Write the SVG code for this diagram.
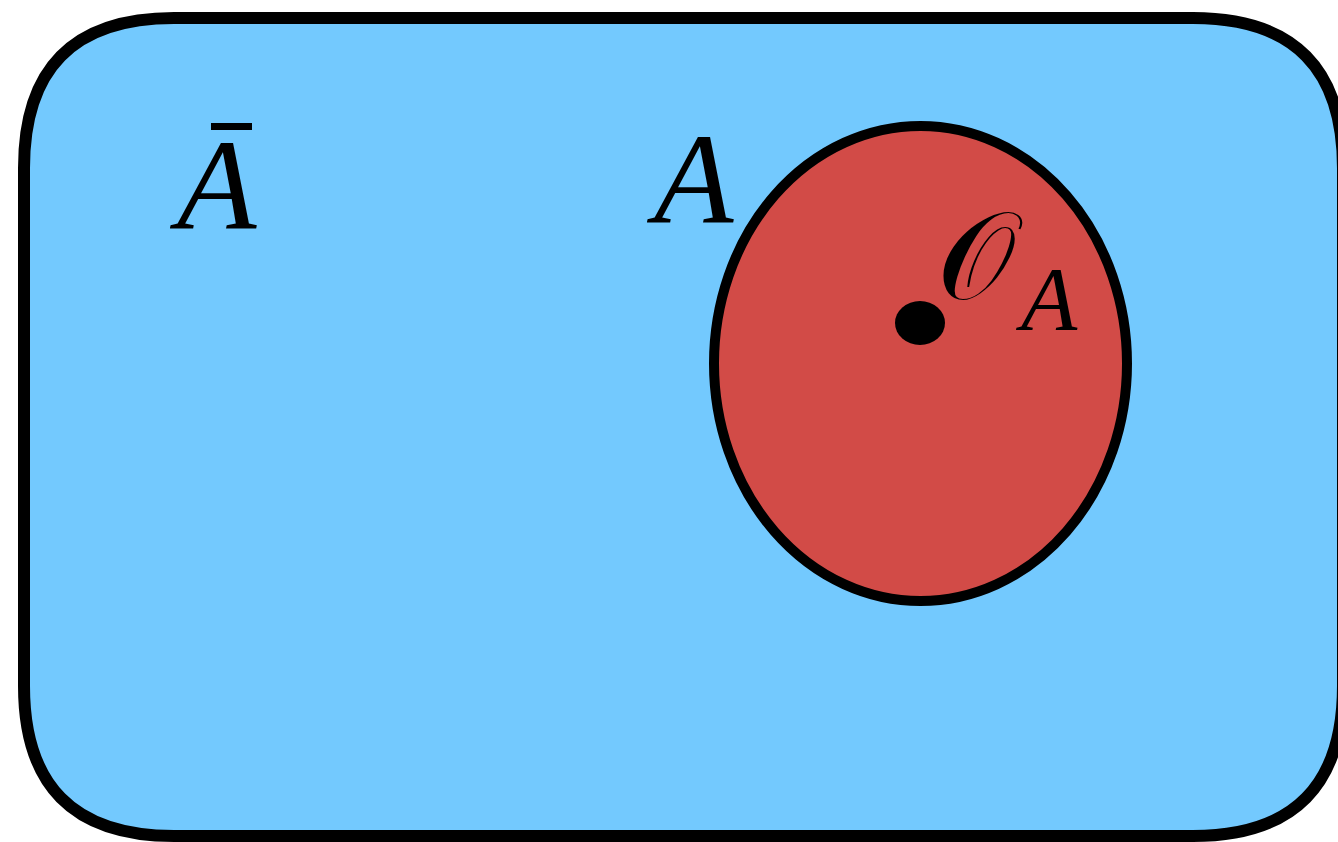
<svg xmlns="http://www.w3.org/2000/svg" width="1338" height="842" viewBox="0 0 1338 842">
<style>
.lbl{font-family:"Liberation Serif","Times New Roman",serif;font-style:italic;fill:#000}
</style>
<rect width="1338" height="842" fill="#ffffff"/>
<g id="universe">
<path d="M24,168 C24,70 72,18 174,18 H1193 C1295,18 1343,70 1343,168 V686 C1343,784 1295,836 1193,836 H174 C72,836 24,784 24,686 Z" fill="#73c9fe" stroke="#000" stroke-width="12"/>
</g>
<g id="setA">
<ellipse cx="920.5" cy="363.5" rx="206.5" ry="237.5" fill="#d24b47" stroke="#000" stroke-width="10"/>
</g>
<g id="point">
<ellipse cx="920" cy="323" rx="25" ry="22" fill="#000"/>
</g>
<g id="labels">
<text class="lbl" x="177" y="229" font-size="130">A</text>
<rect x="211" y="123" width="41" height="7" fill="#000"/>
<text class="lbl" x="654" y="223" font-size="130">A</text>
<text x="937" y="299" font-size="124" font-family="'DejaVu Serif','DejaVu Sans','Noto Sans',serif">𝒪</text>
<text class="lbl" x="1021" y="330" font-size="92">A</text>
</g>
</svg>
